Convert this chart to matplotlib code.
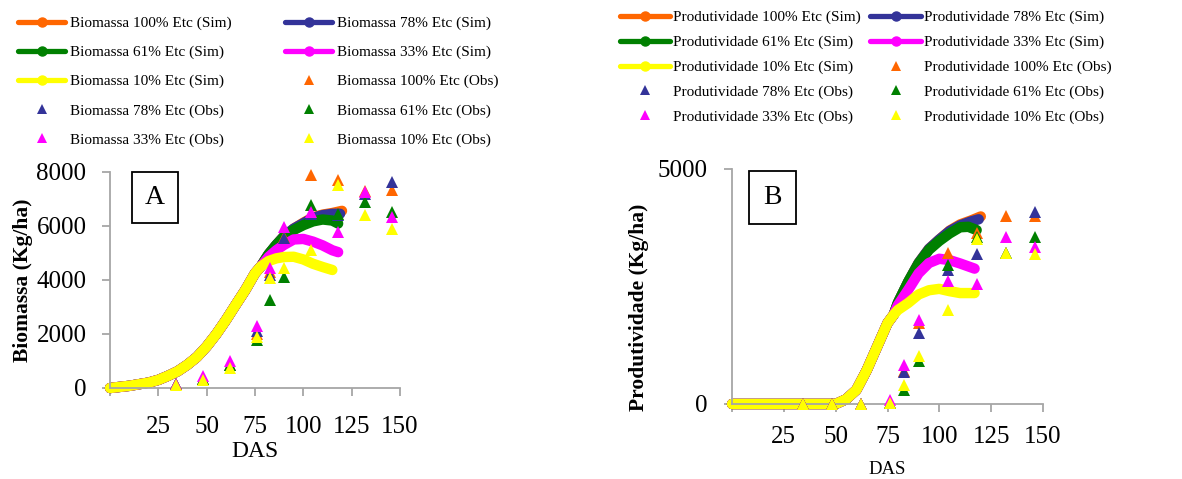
import numpy as np
import matplotlib
matplotlib.use('Agg')
import matplotlib.pyplot as plt
from matplotlib.lines import Line2D
from matplotlib.patches import Rectangle

plt.rcParams['font.family'] = ['Liberation Serif', 'DejaVu Serif']

levels = ['100%', '78%', '61%', '33%', '10%']
colors = ['#ff6600', '#333399', '#008000', '#ff00ff', '#ffff00']

# ---- panel A: biomassa (simulated curves) ----
das_early_a = [0, 10, 20, 25, 30, 35, 40, 45, 50, 55, 60, 65, 70, 75, 78]
bio_early = [0, 80, 200, 300, 450, 620, 860, 1150, 1540, 2000, 2520, 3080, 3630, 4250, 4500]
das_late_a = {
    '100%': [82, 86, 90, 95, 100, 105, 110, 115, 120],
    '78%': [82, 86, 90, 95, 100, 105, 110, 115, 119],
    '61%': [82, 86, 90, 95, 100, 105, 110, 115, 118],
    '33%': [82, 86, 90, 95, 100, 105, 110, 115, 118],
    '10%': [82, 86, 90, 95, 100, 105, 110, 115],
}
bio_late = {
    '100%': [4950, 5300, 5620, 5900, 6120, 6320, 6420, 6480, 6560],
    '78%': [4950, 5300, 5620, 5900, 6100, 6300, 6400, 6450, 6450],
    '61%': [4950, 5300, 5600, 5850, 6030, 6170, 6240, 6200, 6090],
    '33%': [4850, 5100, 5300, 5500, 5520, 5420, 5280, 5100, 5030],
    '10%': [4700, 4800, 4850, 4860, 4760, 4600, 4480, 4370],
}

# ---- panel B: produtividade (simulated curves) ----
das_early_b = [0, 50, 55, 60, 65, 70, 75, 78]
prod_early = [0, 0, 100, 300, 720, 1220, 1720, 1900]
das_late_b = {
    '100%': [80, 85, 90, 95, 100, 105, 110, 115, 120],
    '78%': [80, 85, 90, 95, 100, 105, 110, 115, 119],
    '61%': [80, 85, 90, 95, 100, 105, 110, 114, 118],
    '33%': [80, 85, 90, 95, 100, 105, 110, 117],
    '10%': [80, 85, 90, 95, 100, 105, 110, 117],
}
prod_late = {
    '100%': [2150, 2600, 3000, 3300, 3500, 3690, 3820, 3900, 3990],
    '78%': [2150, 2600, 3000, 3300, 3500, 3680, 3800, 3880, 3930],
    '61%': [2150, 2600, 2990, 3280, 3470, 3630, 3760, 3770, 3700],
    '33%': [2100, 2430, 2780, 3000, 3090, 3060, 2990, 2880],
    '10%': [2000, 2150, 2330, 2420, 2450, 2400, 2360, 2360],
}

# ---- observed ----
das_obs = [34, 48, 62, 76, 83, 90, 104, 118, 132, 146]
bio_obs = {
    '100%': [130, 350, 850, 2000, 4300, 5600, 7880, 7720, 7300, 7350],
    '78%': [130, 350, 850, 2100, 4180, 5540, 6460, 6400, 7200, 7630],
    '61%': [130, 350, 850, 1780, 3260, 4120, 6770, 6460, 6890, 6520],
    '33%': [130, 430, 985, 2280, 4430, 5970, 6520, 5790, 7260, 6340],
    '10%': [120, 300, 740, 1900, 4060, 4430, 5110, 7510, 6400, 5870],
}
prod_obs = {
    '100%': [0, 0, 0, 30, 700, 1720, 3220, 3630, 3990, 4000],
    '78%': [0, 0, 0, 30, 690, 1520, 2850, 3200, 3220, 4090],
    '61%': [0, 0, 0, 20, 300, 920, 2960, 3560, 3220, 3550],
    '33%': [0, 0, 0, 85, 830, 1790, 2620, 2550, 3560, 3330],
    '10%': [0, 0, 0, 20, 400, 1020, 2000, 3520, 3220, 3190],
}

fig = plt.figure(figsize=(11.82, 4.79), dpi=100)
axA = fig.add_axes([0.0931, 0.19, 0.2453, 0.451])
axB = fig.add_axes([0.6193, 0.1566, 0.2631, 0.4906])

gray = '#a6a6a6'


def draw(ax, das_early, early, das_late, late, obs, prefix):
    for lev, c in zip(levels, colors):
        ax.plot(das_early + das_late[lev], early + late[lev], color=c, lw=7.5,
                solid_capstyle='round', solid_joinstyle='round', clip_on=False, zorder=2)
    for lev, c in zip(levels, colors):
        ax.plot(das_obs, obs[lev], ls='none', marker='^', ms=9, color=c,
                markeredgewidth=0, clip_on=False, zorder=3)
    ax.set_xlim(0, 150)
    ax.set_xticks([0, 25, 50, 75, 100, 125, 150])
    ax.set_xticklabels(['', '25', '50', '75', '100', '125', '150'])
    for s in ['top', 'right']:
        ax.spines[s].set_visible(False)
    for s in ['left', 'bottom']:
        ax.spines[s].set_color(gray)
        ax.spines[s].set_linewidth(1.3)
    ax.tick_params(colors=gray, labelcolor='black', length=6, width=1.3, labelsize=18)
    # legend: row-major order as in the original
    sim = [Line2D([], [], color=c, lw=3.8, marker='o', ms=6.5, solid_capstyle='round')
           for c in colors]
    obsh = [Line2D([], [], ls='none', color=c, marker='^', ms=6.5, markeredgewidth=0)
            for c in colors]
    labs_sim = [f'{prefix} {l} Etc (Sim)' for l in levels]
    labs_obs = [f'{prefix} {l} Etc (Obs)' for l in levels]
    hs = sim + obsh
    ls = labs_sim + labs_obs
    order = [0, 2, 4, 6, 8, 1, 3, 5, 7, 9]
    return [hs[i] for i in order], [ls[i] for i in order]


hA, lA = draw(axA, das_early_a, bio_early, das_late_a, bio_late, bio_obs, 'Biomassa')
hB, lB = draw(axB, das_early_b, prod_early, das_late_b, prod_late, prod_obs, 'Produtividade')

axA.set_ylim(0, 8000)
axA.set_yticks([0, 2000, 4000, 6000, 8000])
axA.tick_params(axis='x', pad=14)
axA.tick_params(axis='y', pad=11)
axA.set_xlabel('DAS', fontsize=17, va='center')
axA.xaxis.set_label_coords(0.5, -64 / 216)
axA.set_ylabel('Biomassa (Kg/ha)', fontsize=15.5, fontweight='bold', va='center')
axA.yaxis.set_label_coords(-0.30, 0.5)

axB.set_ylim(0, 5000)
axB.set_yticks([0, 5000])
axB.tick_params(axis='x', pad=10)
axB.tick_params(axis='y', pad=11.5)
axB.set_xlabel('DAS', fontsize=13.5, va='center')
axB.xaxis.set_label_coords(0.5, -66 / 235)
axB.set_ylabel('Produtividade (Kg/ha)', fontsize=15.5, fontweight='bold', va='center')
axB.yaxis.set_label_coords(-0.299, 0.413)

# panel letters in boxes
axA.add_patch(Rectangle((0.0759, 0.764), 0.1586, 0.236, transform=axA.transAxes,
                        fill=False, ec='black', lw=1.3, clip_on=False))
axA.text(0.0759 + 0.0793, 0.764 + 0.118, 'A', transform=axA.transAxes,
         ha='center', va='center', fontsize=20)
axB.add_patch(Rectangle((0.0547, 0.766), 0.151, 0.2255, transform=axB.transAxes,
                        fill=False, ec='black', lw=1.3, clip_on=False))
axB.text(0.0547 + 0.0755, 0.766 + 0.113, 'B', transform=axB.transAxes,
         ha='center', va='center', fontsize=20)

fig.legend(hA, lA, ncol=2, loc='upper left', bbox_to_anchor=(0.0152, 0.966),
           frameon=False, fontsize=11, handlelength=3.1, handletextpad=0.3,
           labelspacing=1.0, columnspacing=3.5, borderpad=0, borderaxespad=0,
           numpoints=1)
fig.legend(hB, lB, ncol=2, loc='upper left', bbox_to_anchor=(0.5245, 0.978),
           frameon=False, fontsize=11, handlelength=3.3, handletextpad=0.2,
           labelspacing=0.72, columnspacing=0.6, borderpad=0, borderaxespad=0,
           numpoints=1)

fig.savefig('out.png', dpi=100)
